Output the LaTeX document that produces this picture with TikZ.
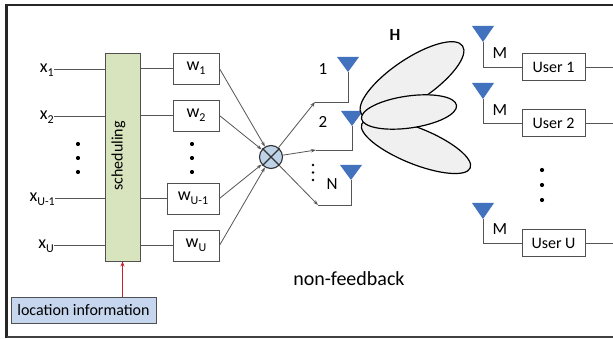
\documentclass[tikz,border=0pt]{standalone}
\usepackage{fontspec}
\setmainfont{Carlito}
\usetikzlibrary{shapes.geometric,arrows.meta}

\definecolor{schedfill}{RGB}{215,228,189}
\definecolor{locfill}{RGB}{197,214,238}
\definecolor{mulfill}{RGB}{190,210,232}
\definecolor{antcol}{RGB}{66,114,190}
\definecolor{lobefill}{RGB}{240,240,240}
\definecolor{wirecol}{RGB}{85,85,85}
\definecolor{boxline}{RGB}{80,80,80}
\definecolor{feedred}{RGB}{200,30,40}

\newcommand\lowsub[1]{\raisebox{-4pt}{\fontsize{12}{12}\selectfont #1}}
\newcommand\fsz[1]{\fontsize{#1}{#1}\selectfont}

\begin{document}
\begin{tikzpicture}[x=1pt,y=-1pt,
  wire/.style={draw=wirecol, line width=0.8pt},
  arr/.style={wire, -{Stealth[length=5pt,width=3.5pt]}},
  wbox/.style={draw=boxline, fill=white, line width=0.9pt, inner sep=0,
               minimum width=46, minimum height=31, font=\fsz{18}},
  ubox/.style={draw=boxline, fill=white, line width=0.9pt, inner sep=0,
               minimum width=63, minimum height=27, font=\fsz{16}},
  lab/.style={inner sep=0, font=\fsz{18}},
  lobe/.style={ellipse, draw=black, fill=lobefill, line width=1.2pt, inner sep=0},
  bigdot/.style={circle, fill=black, inner sep=0, minimum size=4.2},
  smalldot/.style={circle, fill=black, inner sep=0, minimum size=2.6},
  antenna/.style={fill=antcol},
]
\useasboundingbox (0,0) rectangle (613,339);

% outer frame (open on the right)
\draw[line width=1.4pt, black!85] (613,5) -- (6.5,5);
\draw[line width=2.4pt, black!85] (6.5,4.3) -- (6.5,337.7);
\draw[line width=1.4pt, black!75] (6.5,337) -- (613,337);

% scheduler block
\node[draw=boxline, fill=schedfill, line width=0.9pt, minimum width=35,
      minimum height=208, inner sep=0] (sched) at (122.5,157) {};
\node[rotate=90, inner sep=0, font=\fsz{16}] (schedtxt) at (118.5,156) {scheduling};

% inputs
\node[lab, anchor=east] (x1)  at (54,70)  {x\lowsub{1}};
\node[lab, anchor=east] (x2)  at (54,117) {x\lowsub{2}};
\node[lab, anchor=east] (xU1) at (55,199) {x\lowsub{U-1}};
\node[lab, anchor=east] (xU)  at (54,246) {x\lowsub{U}};
\foreach \n/\yy in {x1/69, x2/116, xU1/198, xU/245}
  \draw[wire] (\n.east |- 0,\yy) -- (sched.west |- 0,\yy);
\node[bigdot] (xd1) at (78,144) {};
\node[bigdot] (xd2) at (78,158) {};
\node[bigdot] (xd3) at (78,172) {};

% weights
\node[wbox] (w1)  at (196,68.5)  {w\lowsub{1}};
\node[wbox] (w2)  at (196,115.5) {w\lowsub{2}};
\node[wbox, minimum width=52] (wU1) at (193,198.5) {w\lowsub{U-1}};
\node[wbox] (wU)  at (196,245.5) {w\lowsub{U}};
\foreach \n in {w1, w2, wU1, wU}
  \draw[wire] (sched.east |- \n.west) -- (\n.west);
\node[bigdot] (wd1) at (192,144) {};
\node[bigdot] (wd2) at (192,158) {};
\node[bigdot] (wd3) at (192,172) {};

% combiner
\node[circle, draw=black!80, fill=mulfill, line width=1.1pt, minimum size=23,
      inner sep=0] (mul) at (271,157) {};
\draw[black!80, line width=1.1pt] (mul.north west) -- (mul.south east)
      (mul.north east) -- (mul.south west);
\foreach \n in {w1, w2, wU1, wU}
  \draw[arr] (\n.east) -- (mul);

% transmit antennas
\coordinate (f1) at (315,102);
\coordinate (f2) at (316,150);
\coordinate (fN) at (318,205);
\coordinate (a1) at (348,72);
\coordinate (a2) at (352,126);
\coordinate (aN) at (351,180);
\foreach \f/\a in {f1/a1, f2/a2, fN/aN}{
  \draw[arr] (mul) -- (\f);
  \draw[wire] (\f) -- (\a |- \f) -- (\a);
  \fill[antenna] (\a) -- ++(-11,-15) -- ++(22,0) -- cycle;
}
\node[lab, font=\fsz{17}] (l1) at (323,69) {1};
\node[lab, font=\fsz{17}] (l2) at (323,122) {2};
\node[lab, font=\fsz{17}] (lN) at (332,184) {N};
\node[smalldot] (nd1) at (313,165) {};
\node[smalldot] (nd2) at (313,172.5) {};
\node[smalldot] (nd3) at (313,180) {};

% beam lobes
\node[lobe, minimum width=122, minimum height=42, rotate=34]  (lobeA) at (412,80) {};
\node[lobe, minimum width=117, minimum height=36, rotate=-22] (lobeC) at (416,146) {};
\node[lobe, minimum width=96,  minimum height=32, rotate=8]   (lobeB) at (409,112) {};
\node[lab, font=\bfseries\fsz{17}] (H) at (395,35) {H};

% users
\node[ubox] (u1) at (553.5,67)  {User 1};
\node[ubox] (u2) at (553.5,123) {User 2};
\node[ubox] (uU) at (553.5,243) {User U};
\coordinate (b1) at (483,42);
\coordinate (b2) at (483,99);
\coordinate (bU) at (483,219);
\coordinate (o1) at (613,67);
\coordinate (o2) at (613,123);
\coordinate (oU) at (613,243);
\foreach \b/\u/\o in {b1/u1/o1, b2/u2/o2, bU/uU/oU}{
  \draw[wire] (\b) -- (\b |- \u.west) -- (\u.west);
  \draw[wire] (\u.east) -- (\o);
  \fill[antenna] (\b) -- ++(-11,-16) -- ++(22,0) -- cycle;
}
\node[lab, font=\fsz{17}] (m1) at (500,53)  {M};
\node[lab, font=\fsz{17}] (m2) at (500,110) {M};
\node[lab, font=\fsz{17}] (mU) at (500,229.5) {M};
\node[bigdot] (ud1) at (542,170) {};
\node[bigdot] (ud2) at (542,185) {};
\node[bigdot] (ud3) at (542,200) {};

\node[lab, font=\fsz{20}] (nf) at (349,279) {non-feedback};

% side information
\node[draw=boxline, fill=locfill, line width=0.9pt, minimum width=145,
      minimum height=26, inner sep=0, font=\fsz{16}] (loc) at (83.5,310)
      {location information};
\draw[draw=feedred, line width=1pt, -{Stealth[length=5pt,width=4pt]}]
      (loc.north -| sched.south) -- (sched.south);
\end{tikzpicture}
\end{document}
